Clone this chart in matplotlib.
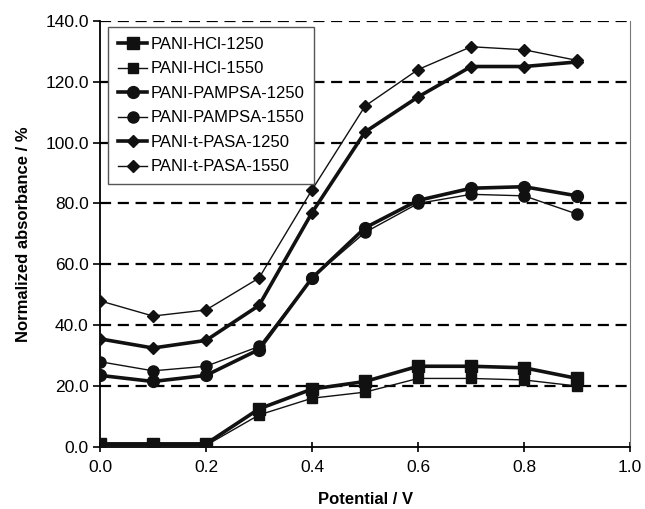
import matplotlib
matplotlib.use("Agg")
import matplotlib.pyplot as plt

plt.rcParams['font.family'] = ['Liberation Sans', 'DejaVu Sans']

potential = [0.0, 0.1, 0.2, 0.3, 0.4, 0.5, 0.6, 0.7, 0.8, 0.9]

hcl_1250 = [1.0, 1.0, 1.0, 12.5, 19.0, 21.5, 26.5, 26.5, 26.0, 22.5]
hcl_1550 = [0.5, 0.5, 0.5, 10.5, 16.0, 18.0, 22.5, 22.5, 22.0, 20.0]
pampsa_1250 = [23.5, 21.5, 23.5, 32.0, 55.5, 72.0, 81.0, 85.0, 85.5, 82.5]
pampsa_1550 = [28.0, 25.0, 26.5, 33.0, 55.5, 70.5, 80.0, 83.0, 82.5, 76.5]
pasa_1250 = [35.5, 32.5, 35.0, 46.5, 77.0, 103.5, 115.0, 125.0, 125.0, 126.5]
pasa_1550 = [48.0, 43.0, 45.0, 55.5, 84.5, 112.0, 124.0, 131.5, 130.5, 127.0]

series = [
    ('PANI-HCl-1250', hcl_1250, 's', 2.6, 8),
    ('PANI-HCl-1550', hcl_1550, 's', 1.0, 7),
    ('PANI-PAMPSA-1250', pampsa_1250, 'o', 2.6, 8.5),
    ('PANI-PAMPSA-1550', pampsa_1550, 'o', 1.0, 8),
    ('PANI-t-PASA-1250', pasa_1250, 'D', 2.6, 6.5),
    ('PANI-t-PASA-1550', pasa_1550, 'D', 1.0, 6.5),
]

fig = plt.figure(figsize=(6.45, 5.09), dpi=100)
ax = fig.add_axes([0.155, 0.122, 0.822, 0.837])

for y in [20, 40, 60, 80, 100, 120, 140]:
    ax.axhline(y, color='black', linestyle=(0, (5, 3)), linewidth=1.6, zorder=1)

for name, vals, mk, lw, ms in series:
    ax.plot(potential, vals, color='#111111', marker=mk, linewidth=lw,
            markersize=ms, label=name, zorder=3)

ax.set_xlim(0, 1.0)
ax.set_ylim(0, 140)
ax.set_xticks([0.0, 0.2, 0.4, 0.6, 0.8, 1.0])
ax.set_yticks(range(0, 141, 20))
ax.set_xticklabels(['0.0', '0.2', '0.4', '0.6', '0.8', '1.0'])
ax.set_yticklabels(['%.1f' % v for v in range(0, 141, 20)])
ax.tick_params(axis='both', labelsize=12.5, width=1.2)
ax.tick_params(axis='x', direction='inout', length=7, pad=6)
ax.tick_params(axis='y', direction='out', length=5, pad=3)

ax.spines['top'].set_visible(False)
ax.spines['right'].set_color('#777777')
ax.spines['left'].set_linewidth(1.3)
ax.spines['bottom'].set_linewidth(1.3)

ax.set_xlabel('Potential / V', fontsize=12, fontweight='bold', labelpad=12)
ax.set_ylabel('Normalized absorbance / %', fontsize=12, fontweight='bold', labelpad=10)

leg = ax.legend(loc='upper left', bbox_to_anchor=(0.015, 0.986), fontsize=12,
                fancybox=False, edgecolor='#555555', framealpha=1,
                handlelength=1.75, handletextpad=0.2, labelspacing=0.57,
                borderpad=0.6, borderaxespad=0)
leg.get_frame().set_linewidth(1.0)

fig.savefig('out.png', dpi=100)
